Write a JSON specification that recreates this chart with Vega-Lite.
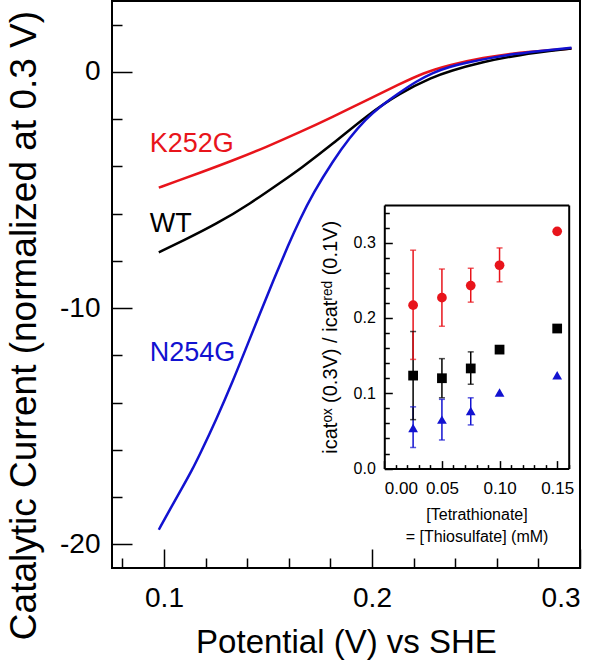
{
  "$schema": "https://vega.github.io/schema/vega-lite/v6.json",
  "width": 468,
  "height": 567,
  "autosize": {"type": "none"},
  "padding": {"left": 112, "top": 1, "right": 20, "bottom": 97},
  "config": {
    "view": {"stroke": "black", "strokeWidth": 2},
    "font": "Liberation Sans",
    "axis": {
      "grid": false,
      "domainColor": "black",
      "domainWidth": 2,
      "tickColor": "black",
      "tickWidth": 1.5,
      "labelColor": "black",
      "titleColor": "black",
      "labelFont": "Liberation Sans",
      "titleFont": "Liberation Sans",
      "titleFontWeight": "normal"
    }
  },
  "datasets": {
    "curves": [
      {"v": "K252G", "E": 0.0975, "I": -4.90},
      {"v": "K252G", "E": 0.1070, "I": -4.60},
      {"v": "K252G", "E": 0.1173, "I": -4.27},
      {"v": "K252G", "E": 0.1332, "I": -3.75},
      {"v": "K252G", "E": 0.1492, "I": -3.18},
      {"v": "K252G", "E": 0.1652, "I": -2.56},
      {"v": "K252G", "E": 0.1813, "I": -1.90},
      {"v": "K252G", "E": 0.1973, "I": -1.20},
      {"v": "K252G", "E": 0.2133, "I": -0.52},
      {"v": "K252G", "E": 0.2245, "I": -0.05},
      {"v": "K252G", "E": 0.2374, "I": 0.30},
      {"v": "K252G", "E": 0.2534, "I": 0.60},
      {"v": "K252G", "E": 0.2694, "I": 0.81},
      {"v": "K252G", "E": 0.2959, "I": 0.99},
      {"v": "WT", "E": 0.0975, "I": -7.64},
      {"v": "WT", "E": 0.1091, "I": -7.15},
      {"v": "WT", "E": 0.1252, "I": -6.44},
      {"v": "WT", "E": 0.1412, "I": -5.59},
      {"v": "WT", "E": 0.1572, "I": -4.61},
      {"v": "WT", "E": 0.1652, "I": -4.12},
      {"v": "WT", "E": 0.1813, "I": -3.04},
      {"v": "WT", "E": 0.1973, "I": -1.86},
      {"v": "WT", "E": 0.2133, "I": -0.89},
      {"v": "WT", "E": 0.2293, "I": -0.22},
      {"v": "WT", "E": 0.2374, "I": 0.04},
      {"v": "WT", "E": 0.2534, "I": 0.42},
      {"v": "WT", "E": 0.2694, "I": 0.71},
      {"v": "WT", "E": 0.2959, "I": 0.99},
      {"v": "N254G", "E": 0.0975, "I": -19.38},
      {"v": "N254G", "E": 0.1035, "I": -18.42},
      {"v": "N254G", "E": 0.1091, "I": -17.55},
      {"v": "N254G", "E": 0.1135, "I": -16.85},
      {"v": "N254G", "E": 0.1172, "I": -16.20},
      {"v": "N254G", "E": 0.1252, "I": -14.70},
      {"v": "N254G", "E": 0.1332, "I": -13.07},
      {"v": "N254G", "E": 0.1396, "I": -11.66},
      {"v": "N254G", "E": 0.1460, "I": -10.26},
      {"v": "N254G", "E": 0.1524, "I": -8.86},
      {"v": "N254G", "E": 0.1600, "I": -7.28},
      {"v": "N254G", "E": 0.1652, "I": -6.27},
      {"v": "N254G", "E": 0.1717, "I": -5.13},
      {"v": "N254G", "E": 0.1813, "I": -3.76},
      {"v": "N254G", "E": 0.1893, "I": -2.78},
      {"v": "N254G", "E": 0.1970, "I": -2.00},
      {"v": "N254G", "E": 0.2037, "I": -1.48},
      {"v": "N254G", "E": 0.2133, "I": -0.87},
      {"v": "N254G", "E": 0.2213, "I": -0.40},
      {"v": "N254G", "E": 0.2293, "I": -0.03},
      {"v": "N254G", "E": 0.2374, "I": 0.22},
      {"v": "N254G", "E": 0.2454, "I": 0.39},
      {"v": "N254G", "E": 0.2574, "I": 0.60},
      {"v": "N254G", "E": 0.2694, "I": 0.77},
      {"v": "N254G", "E": 0.2820, "I": 0.90},
      {"v": "N254G", "E": 0.2959, "I": 1.02}
    ],
    "labels": [
      {"v": "K252G", "E": 0.0931, "I": -3.04},
      {"v": "WT", "E": 0.0931, "I": -6.43},
      {"v": "N254G", "E": 0.0931, "I": -11.9}
    ],
    "inset": [
      {"v": "N254G", "c": 0.025, "r": 0.054, "lo": 0.028, "hi": 0.082},
      {"v": "N254G", "c": 0.05, "r": 0.065, "lo": 0.038, "hi": 0.092},
      {"v": "N254G", "c": 0.075, "r": 0.0765, "lo": 0.058, "hi": 0.094},
      {"v": "N254G", "c": 0.1, "r": 0.101},
      {"v": "N254G", "c": 0.15, "r": 0.124},
      {"v": "WT", "c": 0.025, "r": 0.1235, "lo": 0.065, "hi": 0.182},
      {"v": "WT", "c": 0.05, "r": 0.120, "lo": 0.094, "hi": 0.146},
      {"v": "WT", "c": 0.075, "r": 0.133, "lo": 0.112, "hi": 0.155},
      {"v": "WT", "c": 0.1, "r": 0.158},
      {"v": "WT", "c": 0.15, "r": 0.186},
      {"v": "K252G", "c": 0.025, "r": 0.217, "lo": 0.145, "hi": 0.290},
      {"v": "K252G", "c": 0.05, "r": 0.227, "lo": 0.189, "hi": 0.265},
      {"v": "K252G", "c": 0.075, "r": 0.243, "lo": 0.221, "hi": 0.266},
      {"v": "K252G", "c": 0.1, "r": 0.270, "lo": 0.248, "hi": 0.293},
      {"v": "K252G", "c": 0.15, "r": 0.315}
    ]
  },
  "layer": [
    {
      "layer": [
        {
          "data": {"name": "curves"},
          "mark": {"type": "line", "strokeWidth": 2.5, "interpolate": "basis"},
          "encoding": {
            "x": {
              "field": "E", "type": "quantitative",
              "scale": {"domain": [0.075, 0.3], "nice": false, "zero": false},
              "axis": {"orient": "bottom", "values": [0.1, 0.2, 0.3], "format": ".1f", "tickSize": 19, "offset": -19, "labelPadding": 16, "labelFontSize": 28, "title": "Potential (V) vs SHE", "titleFontSize": 33, "titlePadding": 14, "domain": false}
            },
            "y": {
              "field": "I", "type": "quantitative",
              "scale": {"domain": [-21, 3], "nice": false, "zero": false},
              "axis": {"orient": "left", "values": [-20, -10, 0], "labelExpr": "replace(datum.label, '−', '-')", "tickSize": 20, "offset": -20, "labelPadding": 12, "labelFontSize": 28, "title": "Catalytic Current (normalized at 0.3 V)", "titleFontSize": 37, "titlePadding": 16, "titleY": 324, "domain": false}
            },
            "color": {"field": "v", "type": "nominal", "scale": {"domain": ["K252G", "WT", "N254G"], "range": ["#e8141b", "#000000", "#1212d0"]}, "legend": null}
          }
        },
        {
          "data": {"name": "curves"},
          "mark": {"type": "point", "opacity": 0},
          "encoding": {
            "x": {"field": "E", "type": "quantitative", "scale": {"domain": [0.075, 0.3], "nice": false, "zero": false},
              "axis": {"orient": "bottom", "values": [0.08, 0.12, 0.14, 0.16, 0.18, 0.22, 0.24, 0.26, 0.28], "tickSize": 10, "offset": -10, "labels": false, "domain": false, "title": null}},
            "y": {"field": "I", "type": "quantitative", "scale": {"domain": [-21, 3], "nice": false, "zero": false},
              "axis": {"orient": "left", "values": [-18, -16, -14, -12, -8, -6, -4, -2, 2], "tickSize": 10, "offset": -10, "labels": false, "domain": false, "title": null}}
          }
        },
        {
          "mark": {"type": "rule", "color": "black", "strokeWidth": 1.5},
          "encoding": {"y": {"datum": 0, "type": "quantitative", "axis": null}}
        },
        {
          "data": {"name": "labels"},
          "mark": {"type": "text", "align": "left", "baseline": "middle", "fontSize": 27},
          "encoding": {
            "x": {"field": "E", "type": "quantitative", "axis": null},
            "y": {"field": "I", "type": "quantitative", "axis": null},
            "text": {"field": "v"},
            "color": {"field": "v", "type": "nominal", "legend": null}
          }
        }
      ],
      "resolve": {"axis": {"x": "independent", "y": "independent"}}
    },
    {
      "data": {"name": "inset"},
      "layer": [
        {
          "transform": [{"filter": "isValid(datum.lo)"}],
          "mark": {"type": "rule", "strokeWidth": 1.5},
          "encoding": {
            "x": {
              "field": "c", "type": "quantitative",
              "scale": {"domain": [0, 0.16], "range": [272.3, 456.7], "nice": false, "zero": false},
              "axis": {"orient": "bottom", "offset": -107.4, "values": [0, 0.05, 0.1, 0.15], "format": ".2f", "tickSize": 8, "labelPadding": 12, "labelFontSize": 17, "title": ["[Tetrathionate]", "= [Thiosulfate] (mM)"], "titleFontSize": 16, "titleLineHeight": 22, "titlePadding": 10, "domain": false}
            },
            "y": {
              "field": "lo", "type": "quantitative",
              "scale": {"domain": [0, 0.35], "range": [467.6, 204], "nice": false, "zero": false},
              "axis": {"orient": "left", "offset": -280.3, "values": [0, 0.1, 0.2, 0.3], "format": ".1f", "tickSize": 8, "labelPadding": 9, "labelFontSize": 16, "title": "icatᵒˣ (0.3V) / icatʳᵉᵈ (0.1V)", "titleFontSize": 20, "titlePadding": 13, "domain": false}
            },
            "y2": {"field": "hi"},
            "color": {"field": "v", "type": "nominal", "legend": null}
          }
        },
        {
          "transform": [{"filter": "isValid(datum.lo)"}],
          "mark": {"type": "tick", "orient": "horizontal", "size": 6, "thickness": 1.5},
          "encoding": {
            "x": {"field": "c", "type": "quantitative", "axis": null},
            "y": {"field": "lo", "type": "quantitative", "axis": null},
            "color": {"field": "v", "type": "nominal", "legend": null}
          }
        },
        {
          "transform": [{"filter": "isValid(datum.hi)"}],
          "mark": {"type": "tick", "orient": "horizontal", "size": 6, "thickness": 1.5},
          "encoding": {
            "x": {"field": "c", "type": "quantitative", "axis": null},
            "y": {"field": "hi", "type": "quantitative", "axis": null},
            "color": {"field": "v", "type": "nominal", "legend": null}
          }
        },
        {
          "mark": {"type": "point", "filled": true, "size": 95, "opacity": 1},
          "encoding": {
            "x": {"field": "c", "type": "quantitative", "axis": null},
            "y": {"field": "r", "type": "quantitative", "axis": null},
            "color": {"field": "v", "type": "nominal", "legend": null},
            "shape": {"field": "v", "type": "nominal", "scale": {"domain": ["K252G", "WT", "N254G"], "range": ["circle", "square", "triangle-up"]}, "legend": null}
          }
        },
        {
          "mark": {"type": "point", "opacity": 0},
          "encoding": {
            "x": {"field": "c", "type": "quantitative",
              "axis": {"orient": "bottom", "offset": -103.4, "values": [0.01, 0.02, 0.03, 0.04, 0.06, 0.07, 0.08, 0.09, 0.11, 0.12, 0.13, 0.14, 0.16], "tickSize": 4, "labels": false, "domain": false, "title": null}},
            "y": {"field": "r", "type": "quantitative",
              "axis": {"orient": "left", "offset": -277.3, "values": [0.02, 0.04, 0.06, 0.08, 0.12, 0.14, 0.16, 0.18, 0.22, 0.24, 0.26, 0.28, 0.32, 0.34], "tickSize": 5, "labels": false, "domain": false, "title": null}}
          }
        },
        {
          "mark": {"type": "point", "opacity": 0},
          "encoding": {
            "x": {"field": "c", "type": "quantitative",
              "axis": {"orient": "top", "offset": -204, "ticks": false, "labels": false, "domain": true, "title": null}},
            "y": {"field": "r", "type": "quantitative",
              "axis": {"orient": "right", "offset": -11.3, "ticks": false, "labels": false, "domain": true, "title": null}}
          }
        },
        {
          "mark": {"type": "point", "opacity": 0},
          "encoding": {
            "x": {"field": "c", "type": "quantitative",
              "axis": {"orient": "bottom", "offset": -99.4, "ticks": false, "labels": false, "domain": true, "title": null}},
            "y": {"field": "r", "type": "quantitative",
              "axis": {"orient": "left", "offset": -272.3, "ticks": false, "labels": false, "domain": true, "title": null}}
          }
        }
      ],
      "resolve": {"axis": {"x": "independent", "y": "independent"}}
    }
  ],
  "resolve": {
    "scale": {"x": "independent", "y": "independent"},
    "axis": {"x": "independent", "y": "independent"}
  }
}
